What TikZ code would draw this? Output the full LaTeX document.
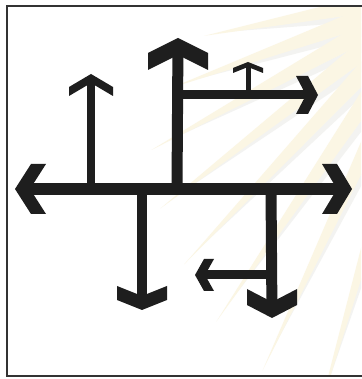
\documentclass[tikz,border=0pt]{standalone}
\usetikzlibrary{calc}
\definecolor{ink}{HTML}{1E1E1E}
\definecolor{raycol}{HTML}{FBF6E4}
\definecolor{raygrey}{HTML}{F3F3F1}
\definecolor{framecol}{HTML}{333333}
\newcommand\chev[5]{% #1 tip coordinate, #2 direction, #3 outer arm length, #4 half width, #5 depth
  \fill[ink, shift={(#1)}, rotate=#2]
    (0,0) -- (-#3,#4) -- (-#3-#5,#4) -- (-#5,0) -- (-#3-#5,-#4) -- (-#3,-#4) -- cycle;}
\newcommand\ray[3]{% #1 angle, #2 length, #3 half width at base
  \fill[raygrey] ($(C)+(#1:50)+(#1+90:#3)$) -- ($(C)+(#1:#2-20)$) -- ($(C)+(#1:50)+(#1+90:#3+10)$) -- cycle;
  \fill[raycol] ($(C)+(#1:50)+(#1-90:#3)$) -- ($(C)+(#1:#2)$) -- ($(C)+(#1:50)+(#1+90:#3)$) -- cycle;}
\tikzset{
  stem/.style={ink, line width=#1pt},
}
\begin{document}
\begin{tikzpicture}[x=1pt,y=1pt]
\useasboundingbox (0,0) rectangle (361,379);
\fill[white] (0,0) rectangle (361,379);
% faint sunburst rays
\coordinate (C) at (440,389);
\begin{scope}
\clip (7,3) rectangle (361,373);
\ray{191}{240}{10}
\ray{200}{285}{11}
\ray{209}{330}{11}
\ray{218}{355}{11}
\ray{227}{375}{11}
\ray{236}{400}{11}
\ray{245}{420}{11}
\ray{254}{440}{11}
\end{scope}
% frame
\draw[framecol, line width=2pt] (375,2.5) -- (7,2.5) -- (7,373) -- (375,373);
% named points
\coordinate (Lt) at (15,190);
\coordinate (Rt) at (352,190);
\coordinate (Jm) at (177,190);
\coordinate (Ut) at (178,341);
\coordinate (Jl) at (91,190);
\coordinate (Ult) at (91,305);
\coordinate (Jb) at (177,284);
\coordinate (Brt) at (318,284);
\coordinate (Js) at (248,284);
\coordinate (St) at (248,317);
\coordinate (Jd1) at (142,190);
\coordinate (D1t) at (142,69);
\coordinate (Jd2) at (271,190);
\coordinate (D2t) at (272,61);
\coordinate (Jk) at (271,104);
\coordinate (Kt) at (195,104);
% stems
\draw[stem=12, shorten <=13pt, shorten >=13pt] (Lt) -- (Rt);
\draw[stem=11, shorten >=15pt] (Jm) -- (Ut);
\draw[stem=8, shorten >=7pt] (Jl) -- (Ult);
\draw[stem=9, shorten >=10pt] (Jb) -- (Brt);
\draw[stem=5, shorten >=4pt] (Js) -- (St);
\draw[stem=10, shorten >=12pt] (Jd1) -- (D1t);
\draw[stem=11, shorten >=14pt] (Jd2) -- (D2t);
\draw[stem=9, shorten >=8pt] (Jk) -- (Kt);
% heads
\chev{Lt}{180}{16}{25}{15}
\chev{Rt}{0}{15}{25}{15}
\chev{Ut}{90}{15}{30}{17}
\chev{Ult}{90}{13}{22}{9}
\chev{Brt}{0}{10}{19}{12}
\chev{St}{90}{6}{15}{5}
\chev{D1t}{270}{10}{25}{14}
\chev{D2t}{270}{13}{25}{16}
\chev{Kt}{180}{9}{16}{10}
\end{tikzpicture}
\end{document}
